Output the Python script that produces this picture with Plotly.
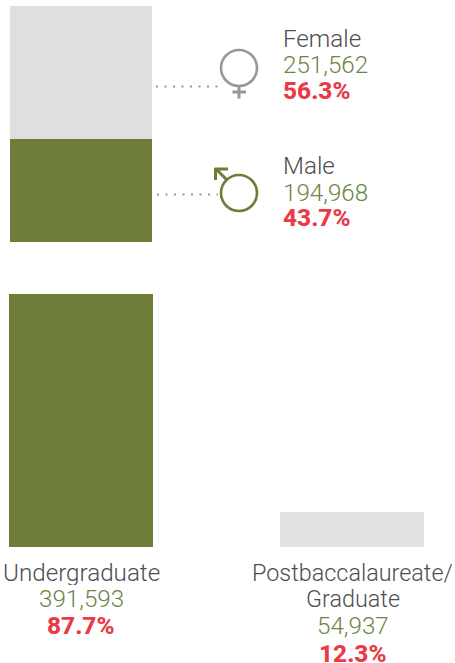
import plotly.graph_objects as go

W, H = 455, 663

# ---- data ----
gender_names = ["Male", "Female"]
gender_values = [194968, 251562]
gender_shares = ["43.7%", "56.3%"]
level_names = ["Undergraduate", "Postbaccalaureate/<br>Graduate"]
level_values = [391593, 54937]
level_shares = ["87.7%", "12.3%"]

OLIVE = "#6E7D3A"
LIGHT_TOP = "#DFDFDF"
LIGHT_BOTTOM = "#E3E2E3"
TEXT = "#4D4E50"
GREEN = "#6B8644"
RED = "#E93A46"
ICON = "#98989B"
FONT = "Roboto"
SIZE = 24.2
BOLD_SIZE = 24.4


def px(x):
    return x / W


def py(y):
    return 1 - y / H


fig = go.Figure()

# stacked gender bar
for name, value, colour in zip(gender_names, gender_values, [OLIVE, LIGHT_TOP]):
    fig.add_trace(go.Bar(x=["All"], y=[value], name=name, marker=dict(color=colour, line_width=0),
                         xaxis="x2", yaxis="y2", width=1, hoverinfo="skip", showlegend=False))

# level bars
fig.add_trace(go.Bar(x=[0, 1], y=level_values, width=144 / 271,
                     marker=dict(color=[OLIVE, LIGHT_BOTTOM], line_width=0),
                     xaxis="x", yaxis="y", hoverinfo="skip", showlegend=False))

shapes = []


def line(x0, y0, x1, y1, colour, width=3, dash="solid"):
    shapes.append(dict(type="line", xref="paper", yref="paper", x0=px(x0), y0=py(y0), x1=px(x1), y1=py(y1),
                       line=dict(color=colour, width=width, dash=dash)))


def circle(cx, cy, r, colour):
    shapes.append(dict(type="circle", xref="paper", yref="paper", x0=px(cx - r), x1=px(cx + r),
                       y0=py(cy + r), y1=py(cy - r), line=dict(color=colour, width=2.6)))


# dotted leaders
line(156, 86.5, 218, 86.5, ICON, 2, "2px,6.5px")
line(157, 194.5, 218, 194.5, ICON, 2, "2px,6.5px")

# female icon
circle(239, 68, 18, ICON)
line(239, 86, 239, 98.5, ICON)
line(232.5, 92, 246, 92, ICON)

# male icon
circle(239, 193, 18, OLIVE)
line(227, 180, 216, 169, OLIVE)
line(214.5, 169, 228, 169, OLIVE)
line(215.5, 168, 215.5, 180, OLIVE)

annotations = []


def text(x, y, s, colour, anchor="left", weight=300, height=25, size=None):
    annotations.append(dict(x=px(x), y=py(y), xref="paper", yref="paper", text=s, showarrow=False,
                            xanchor=anchor, yanchor="middle", align=anchor, height=height,
                            font=dict(family=FONT, size=size or (BOLD_SIZE if weight > 400 else SIZE),
                                      color=colour, weight=weight)))


# gender labels
text(281, 38, "Female", TEXT)
text(281, 64.5, f"{gender_values[1]:,}", GREEN)
text(281, 91, gender_shares[1], RED, weight=800)
text(281, 165, "Male", TEXT)
text(281, 192.5, f"{gender_values[0]:,}", GREEN)
text(281, 218, gender_shares[0], RED, weight=800)

# level labels
text(81.5, 572, level_names[0], TEXT, "center")
text(81.5, 598.5, f"{level_values[0]:,}", GREEN, "center")
text(81, 625, level_shares[0], RED, "center", 800)
text(352.5, 572, level_names[1].split("<br>")[0], TEXT, "center", size=23.4)
text(352.5, 598.5, level_names[1].split("<br>")[1], TEXT, "center", size=23.4)
text(352.5, 625.5, f"{level_values[1]:,}", GREEN, "center")
text(352.5, 652.5, level_shares[1], RED, "center", 800, height=20)

fig.update_layout(
    width=W, height=H, autosize=False,
    margin=dict(l=0, r=0, t=0, b=0),
    paper_bgcolor="white", plot_bgcolor="rgba(0,0,0,0)",
    barmode="stack", bargap=0,
    shapes=shapes, annotations=annotations,
    xaxis=dict(domain=[0, 1], range=[-81 / 271, (W - 81) / 271], visible=False, fixedrange=True),
    yaxis=dict(domain=[py(547), py(294)], range=[0, level_values[0]], visible=False, fixedrange=True),
    xaxis2=dict(domain=[px(10), px(152)], anchor="y2", visible=False, fixedrange=True),
    yaxis2=dict(domain=[py(242), py(6)], range=[0, sum(gender_values)], anchor="x2", visible=False, fixedrange=True),
)

fig.write_html("out.html", config=dict(displayModeBar=False, responsive=False),
               post_script="document.body.style.margin='0';document.body.style.overflow='hidden';")
